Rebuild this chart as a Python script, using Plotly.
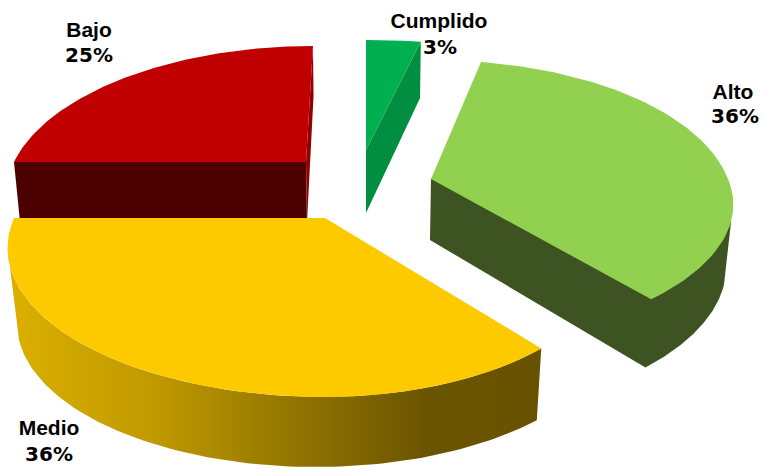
import numpy as np
import plotly.graph_objects as go

categories = ["Cumplido", "Alto", "Medio", "Bajo"]
values = [3, 36, 36, 25]
top_colors = ["#00b050", "#92d050", "#fdca00", "#c00000"]
wall_colors = ["#008f40", "#3d5321", "#6b5500", "#4c0000"]

D = 5.0
GEOM = {
    "Cumplido": dict(top=dict(cx=366, cy=150, ar=350, al=350, kf=660, kb=660, s=0),
                     bot=dict(cx=366, cy=213, ar=345, al=345, kf=700, kb=700, s=0)),
    "Alto": dict(top=dict(cx=431, cy=179, ar=297, al=297, kf=660, kb=712, s=-0.03),
                 bot=dict(cx=430, cy=240, ar=291, al=291, kf=700, kb=700, s=-0.03)),
    "Medio": dict(top=dict(cx=325, cy=218, ar=287, al=311, kf=716, kb=716, s=0),
                  bot=dict(cx=316, cy=294.5, ar=293, al=293, kf=690, kb=690, s=0)),
    "Bajo": dict(top=dict(cx=306, cy=162, ar=292, al=292, kf=696, kb=696, s=-0.06),
                 bot=dict(cx=307, cy=222, ar=287, al=287, kf=756, kb=756, s=-0.052)),
}
NAME_POS = {"Cumplido": (439, 23), "Alto": (733, 94), "Medio": (49, 430), "Bajo": (89, 32)}
PCT_POS = {"Cumplido": (440, 49), "Alto": (735, 118), "Medio": (49, 456), "Bajo": (89, 57)}


def project(theta, p):
    t = np.radians(np.atleast_1d(theta))
    X, Y = np.sin(t), -np.cos(t)
    a = np.where(X > 0, p["ar"], p["al"])
    k = np.where(Y > 0, p["kf"], p["kb"])
    sy = k * Y / (D - Y)
    return p["cx"] + a * X * D / (D - Y) + p["s"] * sy, p["cy"] + sy


def arc(a0, a1, p, n=90):
    return project(np.linspace(a0, a1, n), p)


def poly(fig, xs, ys, color=None, **kw):
    x = np.concatenate([np.atleast_1d(v) for v in xs])
    y = np.concatenate([np.atleast_1d(v) for v in ys])
    x = np.append(x, x[0]); y = np.append(y, y[0])
    args = dict(x=x, y=y, mode="lines", line=dict(width=0), fill="toself",
                hoverinfo="skip", showlegend=False)
    if color:
        args["fillcolor"] = color
    args.update(kw)
    fig.add_trace(go.Scatter(**args))


fig = go.Figure()
edges = np.concatenate([[0], np.cumsum(values)]) * 3.6
span = {c: (edges[i], edges[i + 1]) for i, c in enumerate(categories)}
col = dict(zip(categories, top_colors))
wall = dict(zip(categories, wall_colors))


def top_face(c):
    a0, a1 = span[c]
    p = GEOM[c]["top"]
    ax, ay = arc(a0, a1, p)
    poly(fig, [p["cx"], ax], [p["cy"], ay], col[c])


# Bajo
c = "Bajo"; a0, a1 = span[c]; t = GEOM[c]["top"]; b = GEOM[c]["bot"]
tx, ty = project(a0, t); bx, by = project(a0, b)
poly(fig, [t["cx"], tx, bx, b["cx"]], [t["cy"], ty, by, b["cy"]], wall[c])
tx, ty = project(a1, t); bx, by = project(a1, b)
poly(fig, [t["cx"], tx, bx, b["cx"]], [t["cy"], ty, by, b["cy"]], "#930000")
top_face(c)

# Cumplido
c = "Cumplido"; a0, a1 = span[c]; t = GEOM[c]["top"]; b = GEOM[c]["bot"]
tx, ty = project(a1, t); bx, by = project(a1, b)
poly(fig, [t["cx"], b["cx"], bx, tx], [t["cy"], b["cy"], by, ty], wall[c])
top_face(c)

# Alto
c = "Alto"; a0, a1 = span[c]; t = GEOM[c]["top"]; b = GEOM[c]["bot"]
bax, bay = arc(a1, 107.5, b)
stx, sty = project(107.5, t)
poly(fig, [t["cx"], b["cx"], bax, stx], [t["cy"], b["cy"], bay, sty], wall[c])
top_face(c)

# Medio
c = "Medio"; a0, a1 = span[c]; t = GEOM[c]["top"]; b = GEOM[c]["bot"]
tax, tay = arc(a0, 258.5, t)
bax, bay = arc(258.5, a0, b)
poly(fig, [tax, bax], [tay, bay], None,
     fillgradient=dict(type="horizontal",
                       colorscale=[[0, "#dcb000"], [0.28, "#bf9900"], [0.55, "#8f7300"],
                                   [0.78, "#6b5500"], [1, "#675200"]]))
top_face(c)

fig.add_trace(go.Scatter(
    x=[NAME_POS[c][0] for c in categories], y=[NAME_POS[c][1] for c in categories],
    mode="text", text=categories,
    textfont=dict(family="Liberation Sans", size=21, color="#000000", weight="bold"),
    textposition="middle center", hoverinfo="skip", showlegend=False))
fig.add_trace(go.Scatter(
    x=[PCT_POS[c][0] for c in categories], y=[PCT_POS[c][1] for c in categories],
    mode="text", text=[f"{v}%" for v in values],
    textfont=dict(family="DejaVu Sans", size=20, color="#000000", weight="bold"),
    textposition="middle center", hoverinfo="skip", showlegend=False))

fig.update_layout(width=763, height=469, margin=dict(l=0, r=0, t=0, b=0),
                  paper_bgcolor="white", plot_bgcolor="white",
                  xaxis=dict(visible=False, range=[0, 763], fixedrange=True),
                  yaxis=dict(visible=False, range=[469, 0], fixedrange=True))
fig.write_html("out.html", config=dict(displayModeBar=False),
               post_script="document.body.style.margin='0';document.body.style.overflow='hidden';")
